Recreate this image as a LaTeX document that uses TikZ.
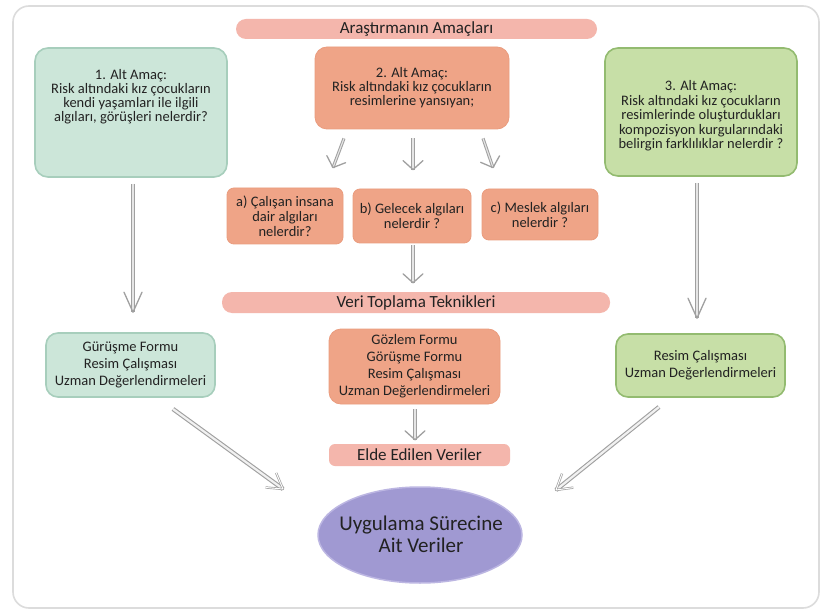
\documentclass[tikz,border=0pt]{standalone}
\usepackage{fontspec}
\setmainfont{Carlito}
\usetikzlibrary{calc,shapes.geometric}
\definecolor{pinkbar}{HTML}{F4B6AC}
\definecolor{orfill}{HTML}{EFA487}
\definecolor{ordraw}{HTML}{EA9C7E}
\definecolor{tealfill}{HTML}{CCE6D9}
\definecolor{tealdraw}{HTML}{A7CEBC}
\definecolor{grfill}{HTML}{C7DFA7}
\definecolor{grdraw}{HTML}{93BB70}
\definecolor{elfill}{HTML}{A099D2}
\definecolor{eldraw}{HTML}{BCB6E2}
\definecolor{txt}{HTML}{222222}
\definecolor{arr}{HTML}{A0A0A0}
\definecolor{framec}{HTML}{DCDCDC}
\tikzset{
  bar/.style={fill=pinkbar, draw=none, rounded corners=10pt, inner sep=0pt, font=\fontsize{17}{19}\selectfont, text=txt},
  boxfont/.style={font=\fontsize{14.5}{14}\selectfont},
  tealbox/.style={fill=tealfill, draw=tealdraw, line width=1.6pt, rounded corners=13pt, inner sep=0pt, align=center, text=txt, boxfont},
  orbox/.style={fill=orfill, draw=ordraw, line width=0.8pt, rounded corners=12pt, inner sep=0pt, align=center, text=txt, boxfont},
  grbox/.style={fill=grfill, draw=grdraw, line width=1.6pt, rounded corners=13pt, inner sep=0pt, align=center, text=txt, boxfont},
  subbox/.style={orbox, rounded corners=7pt, font=\fontsize{14.5}{15}\selectfont},
  plaintext/.style={align=center, text=txt, inner sep=0pt, boxfont},
  lowfont/.style={font=\fontsize{14.5}{17}\selectfont},
  smshaft/.style={draw=arr, double=gray!20, line width=1pt, double distance=1.1pt},
  smhead/.style={draw=arr, line width=1.3pt, line join=round, line cap=round},
  bgshaft/.style={draw=arr, double=white!85!arr, line width=1.1pt, double distance=2.2pt},
  bghead/.style={draw=arr, double=white, line width=0.7pt, double distance=0.9pt, line join=round},
}
% #1 style prefix, #2 from, #3 to, #4 head length, #5 head half width
\newcommand\myarrow[5]{%
  \draw[#1shaft] (#2) -- (#3);
  \draw[#1head] ($(#3)!#4!(#2)!#5!90:(#2)$) -- (#3) -- ($(#3)!#4!(#2)!#5!-90:(#2)$);
}
\begin{document}
\begin{tikzpicture}[x=1pt,y=-1pt]
\fill[white] (0,0) rectangle (821,612);
\useasboundingbox (0,0) rectangle (821,612);
\draw[framec, line width=1.6pt, rounded corners=16pt] (13,6) rectangle (819,608);

% top bar
\node[bar, minimum width=361pt, minimum height=20pt] (title) at (416.5,29) {Araştırmanın Amaçları};

% three goals
\node[tealbox, minimum width=192pt, minimum height=129pt] (g1) at (131,112.5) {};
\node[plaintext] (g1t) at (131,97) {1. Alt Amaç:\\Risk altındaki kız çocukların\\kendi yaşamları ile ilgili\\algıları, görüşleri nelerdir?};
\node[orbox, minimum width=194pt, minimum height=82pt] (g2) at (412,88) {2. Alt Amaç:\\Risk altındaki kız çocukların\\resimlerine yansıyan;};
\node[grbox, minimum width=192pt, minimum height=128pt] (g3) at (701,112) {};
\node[plaintext, font=\fontsize{14.5}{14.5}\selectfont] (g3t) at (701,116) {3. Alt Amaç:\\Risk altındaki kız çocukların\\resimlerinde oluşturdukları\\kompozisyon kurgularındaki\\belirgin farklılıklar nelerdir ?};

% sub questions
\node[subbox, minimum width=116pt, minimum height=56pt] (qa) at (285,216) {a) Çalışan insana\\dair algıları\\nelerdir?};
\node[subbox, minimum width=118pt, minimum height=54pt] (qb) at (412,216) {b) Gelecek algıları\\nelerdir ?};
\node[subbox, minimum width=116pt, minimum height=51pt] (qc) at (540,214.5) {c) Meslek algıları\\nelerdir ?};

% data collection bar
\node[bar, minimum width=388pt, minimum height=21pt] (veri) at (416,302.5) {Veri Toplama Teknikleri};

% techniques
\node[tealbox, minimum width=169pt, minimum height=64pt, lowfont, rounded corners=12pt] (t1) at (130.5,365) {Gürüşme Formu\\Resim Çalışması\\Uzman Değerlendirmeleri};
\node[orbox, minimum width=171pt, minimum height=75pt, lowfont] (t2) at (414.5,366.5) {Gözlem Formu\\Görüşme Formu\\Resim Çalışması\\Uzman Değerlendirmeleri};
\node[grbox, minimum width=169pt, minimum height=63pt, lowfont, rounded corners=12pt] (t3) at (700.5,365.5) {Resim Çalışması\\Uzman Değerlendirmeleri};

% obtained data
\node[bar, rounded corners=6pt, minimum width=181pt, minimum height=22pt] (elde) at (419.5,455) {Elde Edilen Veriler};

% final ellipse
\node[ellipse, fill=elfill, draw=eldraw, line width=1.5pt, minimum width=204pt, minimum height=96pt, inner sep=0pt] (fin) at (420,535) {};
\node[plaintext, font=\fontsize{21}{22}\selectfont] (fint) at (421,534) {Uygulama Sürecine\\Ait Veriler};

% arrow coordinates
\coordinate (a1s) at ($(g1.south)+(2,6)$);
\coordinate (a1e) at ($(t1.north)+(2.5,-20)$);
\coordinate (a3s) at ($(g3.south)+(-4,6)$);
\coordinate (a3e) at ($(t3.north)+(-3.5,-15)$);
\coordinate (sas) at ($(g2.south)+(-68,9)$);
\coordinate (sae) at ($(qa.north)+(48,-20)$);
\coordinate (sbs) at ($(g2.south)+(1,9)$);
\coordinate (sbe) at ($(qb.north)+(1,-19)$);
\coordinate (scs) at ($(g2.south)+(71,9)$);
\coordinate (sce) at ($(qc.north)+(-47,-21)$);
\coordinate (vbs) at ($(qb.south)+(1,2)$);
\coordinate (vbe) at ($(veri.north)+(-3,-9)$);
\coordinate (tes) at ($(t2.south)+(0.5,5)$);
\coordinate (tee) at ($(elde.north)+(-4.5,-4)$);
\coordinate (ls) at (173,409);
\coordinate (le) at (283,489);
\coordinate (rs) at (659,407);
\coordinate (re) at (556,490);

\myarrow{sm}{a1s}{a1e}{20pt}{9pt}
\myarrow{sm}{a3s}{a3e}{20pt}{9pt}
\myarrow{sm}{sas}{sae}{9pt}{10pt}
\myarrow{sm}{sbs}{sbe}{9pt}{10pt}
\myarrow{sm}{scs}{sce}{9pt}{10pt}
\myarrow{sm}{vbs}{vbe}{9pt}{10pt}
\myarrow{sm}{tes}{tee}{9pt}{10pt}
\myarrow{bg}{ls}{le}{15pt}{9pt}
\myarrow{bg}{rs}{re}{15pt}{9pt}
\end{tikzpicture}
\end{document}
